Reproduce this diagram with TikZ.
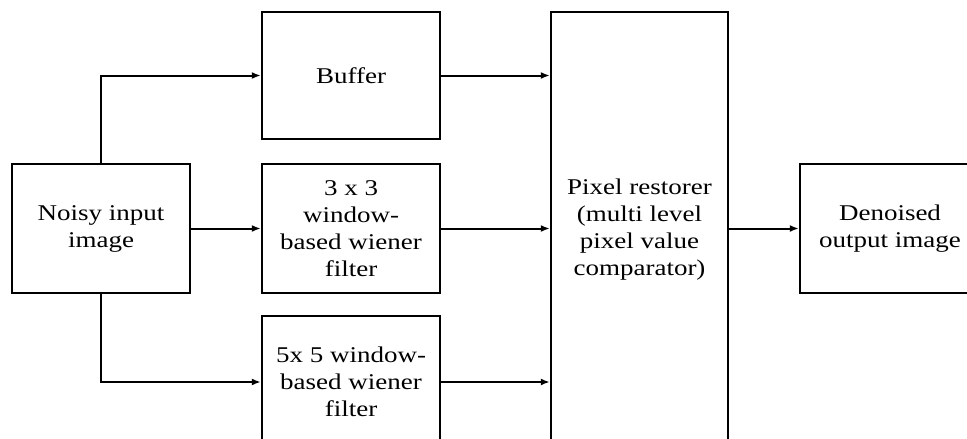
\documentclass[tikz,border=0pt]{standalone}
\usepackage{fontspec}
\setmainfont{Liberation Serif}[FakeStretch=1.2]
\usetikzlibrary{arrows.meta}
\begin{document}
\begin{tikzpicture}[x=1pt,y=-1pt,
  blk/.style={draw,line width=2.4pt,align=center,inner sep=0pt,
    font=\fontsize{22.5}{27}\selectfont,minimum width=178pt},
  conn/.style={line width=2pt,-{Latex[length=9pt,width=7pt]}}]
\clip (0,0) rectangle (967,439);
\useasboundingbox (0,0) rectangle (967,439);
\node[blk,minimum height=129pt] (noisy) at (101,228.5) {Noisy input\\image};
\node[blk,minimum height=127pt] (buffer) at (351,75.5) {Buffer};
\node[blk,minimum height=129pt] (w3) at (351,228.5) {3 x 3\\window-\\based wiener\\filter};
\node[blk,minimum height=132pt] (w5) at (351,382) {5x 5 window-\\based wiener\\filter};
\node[blk,minimum width=177pt,minimum height=436pt] (pix) at (639.5,230) {Pixel restorer\\(multi level\\pixel value\\comparator)};
\node[blk,minimum width=180pt,minimum height=129pt] (den) at (890,228.5) {Denoised\\output image};
\draw[conn] (noisy.north) |- (buffer.west);
\draw[conn] (noisy.east) -- (w3.west);
\draw[conn] (noisy.south) |- (w5.west);
\draw[conn] (buffer.east) -- (buffer.east -| pix.west);
\draw[conn] (w3.east) -- (w3.east -| pix.west);
\draw[conn] (w5.east) -- (w5.east -| pix.west);
\draw[conn] (pix.east |- den.west) -- (den.west);
\end{tikzpicture}
\end{document}
